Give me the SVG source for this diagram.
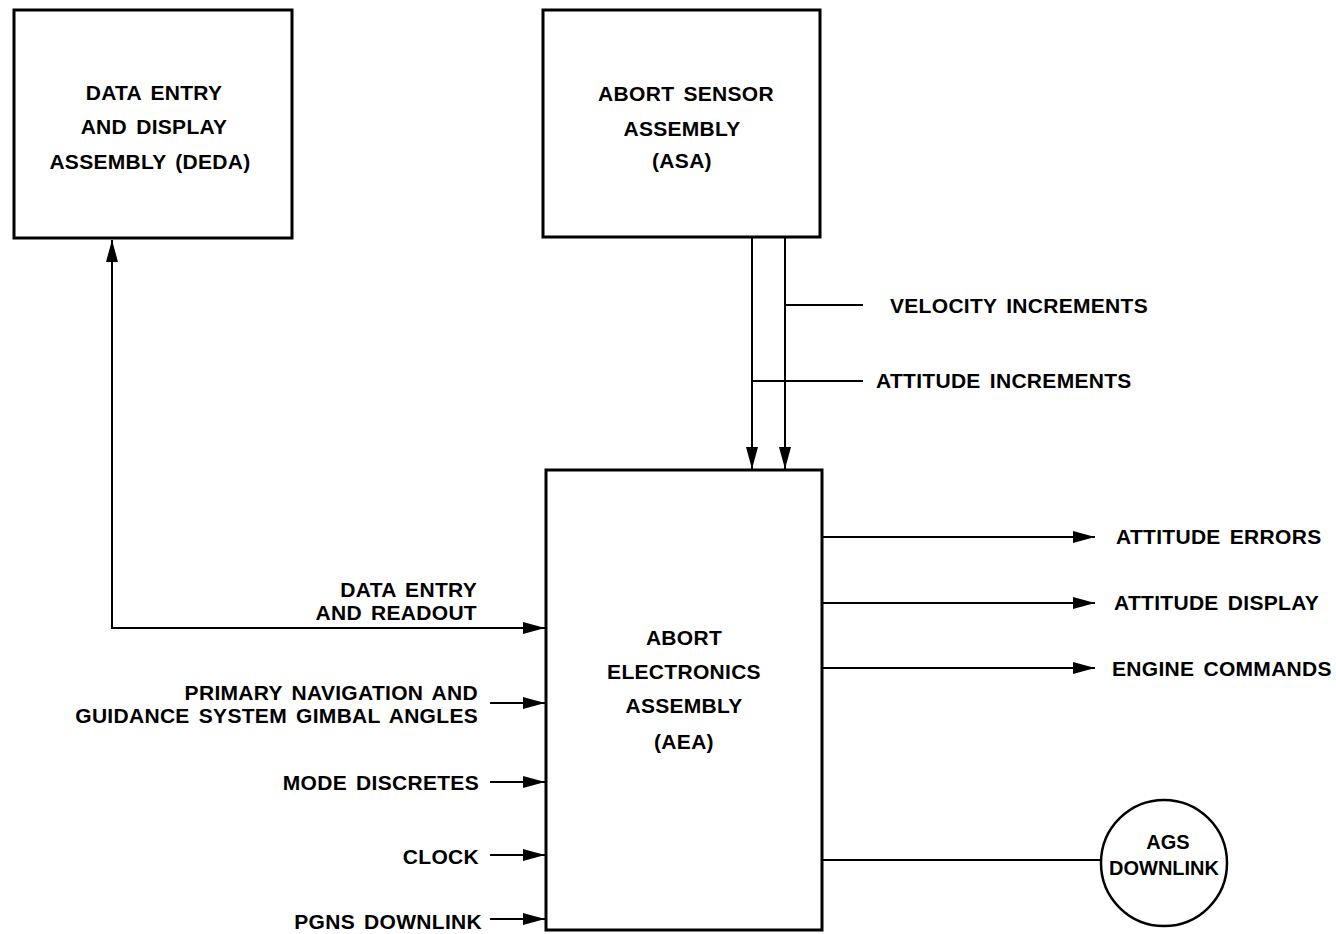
<svg xmlns="http://www.w3.org/2000/svg" width="1336" height="934" viewBox="0 0 1336 934">
<style>
.box{fill:#fff;stroke:#000;stroke-width:3}
.ln{fill:none;stroke:#000;stroke-width:2}
text{font-family:"Liberation Sans",Arial,sans-serif;font-weight:bold;font-size:21px;word-spacing:3px;letter-spacing:0.3px;fill:#000}
.c{text-anchor:middle}
.r{text-anchor:end}
.t{word-spacing:0;letter-spacing:0;font-size:20px}
</style>
<defs>
<marker id="ah" markerUnits="userSpaceOnUse" markerWidth="24" markerHeight="14" refX="22" refY="6" orient="auto-start-reverse">
<path d="M0,0 L22,6 L0,12 z" fill="#000"/>
</marker>
</defs>
<rect width="1336" height="934" fill="#fff"/>
<g id="connectors">
<path class="ln" d="M112,240 V628 H545" marker-start="url(#ah)" marker-end="url(#ah)"/>
<path class="ln" d="M752,238 V469" marker-end="url(#ah)"/>
<path class="ln" d="M785,238 V469" marker-end="url(#ah)"/>
<path class="ln" d="M785,305 H863"/>
<path class="ln" d="M752,381 H863"/>
<path class="ln" d="M490,703 H545" marker-end="url(#ah)"/>
<path class="ln" d="M490,782 H545" marker-end="url(#ah)"/>
<path class="ln" d="M490,855 H545" marker-end="url(#ah)"/>
<path class="ln" d="M490,919 H545" marker-end="url(#ah)"/>
<path class="ln" d="M823,537 H1095" marker-end="url(#ah)"/>
<path class="ln" d="M823,603 H1095" marker-end="url(#ah)"/>
<path class="ln" d="M823,668 H1095" marker-end="url(#ah)"/>
<path class="ln" d="M823,860 H1102"/>
</g>
<g id="deda">
<rect class="box" x="14" y="10" width="278" height="228"/>
<text class="c" x="154" y="100">DATA ENTRY</text>
<text class="c" x="154" y="134">AND DISPLAY</text>
<text class="c" x="150" y="169">ASSEMBLY (DEDA)</text>
</g>
<g id="asa">
<rect class="box" x="543" y="10" width="277" height="227"/>
<text class="c" x="686" y="101">ABORT SENSOR</text>
<text class="c" x="682" y="136">ASSEMBLY</text>
<text class="c" x="682" y="168">(ASA)</text>
</g>
<g id="aea">
<rect class="box" x="546" y="470" width="276" height="460"/>
<text class="c" x="684" y="645">ABORT</text>
<text class="c" x="684" y="679">ELECTRONICS</text>
<text class="c" x="684" y="713">ASSEMBLY</text>
<text class="c" x="684" y="749">(AEA)</text>
</g>
<g id="ags">
<circle cx="1164" cy="863" r="63" fill="#fff" stroke="#000" stroke-width="2.5"/>
<text class="c t" x="1168" y="849">AGS</text>
<text class="c t" x="1164" y="875">DOWNLINK</text>
</g>
<g id="labels">
<text x="890" y="313">VELOCITY INCREMENTS</text>
<text x="876" y="388">ATTITUDE INCREMENTS</text>
<text class="r" x="477" y="597">DATA ENTRY</text>
<text class="r" x="477" y="620">AND READOUT</text>
<text class="r" x="478" y="700">PRIMARY NAVIGATION AND</text>
<text class="r" x="478" y="723">GUIDANCE SYSTEM GIMBAL ANGLES</text>
<text class="r" x="479" y="790">MODE DISCRETES</text>
<text class="r" x="479" y="864">CLOCK</text>
<text class="r" x="482" y="929">PGNS DOWNLINK</text>
<text x="1116" y="544">ATTITUDE ERRORS</text>
<text x="1114" y="610">ATTITUDE DISPLAY</text>
<text x="1112" y="676">ENGINE COMMANDS</text>
</g>
</svg>
